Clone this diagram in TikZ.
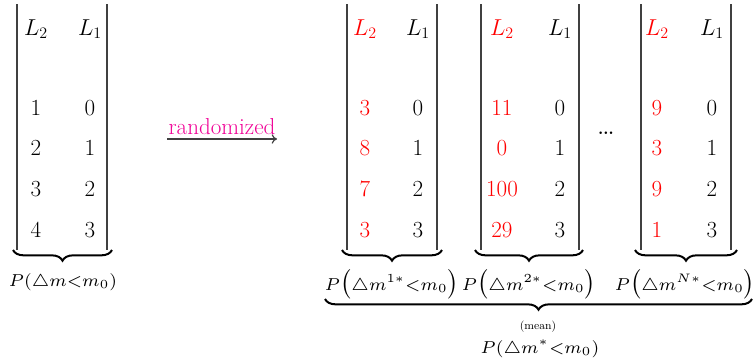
\documentclass[tikz,border=0pt]{standalone}
\usetikzlibrary{decorations.pathreplacing,arrows.meta}
\definecolor{rnd}{RGB}{240,0,150}
\begin{document}
\begin{tikzpicture}[x=0.75pt,y=-0.75pt,
  cell/.style={font=\fontsize{17.28}{20}\selectfont, inner sep=0pt, anchor=base},
  redcell/.style={cell, text=red},
  rule/.style={line width=0.9pt, black!75},
  sbrace/.style={decorate, decoration={brace, mirror, amplitude=8pt}, line width=1.5pt},
  lbl/.style={scale=1.85, inner sep=0pt}]
\useasboundingbox (0,0) rectangle (755,358);

% ---------- Table A ----------
\draw[rule] (17,4) -- (17,250);
\draw[rule] (107,4) -- (107,250);
\node[cell] (a2h) at (36,35) {$L_2$};
\node[cell] (a1h) at (90,35) {$L_1$};
\foreach \y/\u/\v [count=\i] in {115/1/0,155/2/1,196/3/2,237/4/3}{
  \node[cell] (a2r\i) at (36,\y) {$\u$};
  \node[cell] (a1r\i) at (90,\y) {$\v$};
}
\coordinate (abl) at (13,250);
\coordinate (abr) at (112,250);
\draw[sbrace] (abl) -- (abr);
\node[lbl] (alab) at (63,282) {$\scriptstyle P(\triangle m<m_0)$};

% ---------- Arrow ----------
\coordinate (arS) at (167,139);
\coordinate (arE) at (277,139);
\draw[black!75, line width=0.9pt, -{To[length=4pt,width=7pt]}] (arS) -- (arE);
\node[font=\fontsize{17.28}{20}\selectfont, text=rnd, inner sep=0pt, anchor=base] (rand) at (222,134) {randomized};

% ---------- Table B ----------
\draw[rule] (347,4) -- (347,250);
\draw[rule] (437,4) -- (437,250);
\node[redcell] (b2h) at (365,35) {$L_2$};
\node[cell] (b1h) at (418,35) {$L_1$};
\foreach \y/\u/\v [count=\i] in {115/3/0,155/8/1,196/7/2,237/3/3}{
  \node[redcell] (b2r\i) at (365,\y) {$\u$};
  \node[cell] (b1r\i) at (418,\y) {$\v$};
}
\coordinate (bbl) at (342,250);
\coordinate (bbr) at (442,250);
\draw[sbrace] (bbl) -- (bbr);
\node[lbl] (blab) at (392,284) {$\scriptstyle P\bigl(\triangle m^{1*}<m_0\bigr)$};

% ---------- Table C ----------
\draw[rule] (481,4) -- (481,250);
\draw[rule] (579,4) -- (579,250);
\node[redcell] (c2h) at (502,35) {$L_2$};
\node[cell] (c1h) at (560,35) {$L_1$};
\foreach \y/\u/\v [count=\i] in {115/11/0,155/0/1,196/100/2,237/29/3}{
  \node[redcell] (c2r\i) at (502,\y) {$\u$};
  \node[cell] (c1r\i) at (560,\y) {$\v$};
}
\coordinate (cbl) at (475,250);
\coordinate (cbr) at (583,250);
\draw[sbrace] (cbl) -- (cbr);
\node[lbl] (clab) at (529,284) {$\scriptstyle P\bigl(\triangle m^{2*}<m_0\bigr)$};

% ---------- dots ----------
\node[cell, scale=1.35] (dots) at (606,134) {\ldots};

% ---------- Table D ----------
\draw[rule] (641,4) -- (641,250);
\draw[rule] (731,4) -- (731,250);
\node[redcell] (d2h) at (657,35) {$L_2$};
\node[cell] (d1h) at (712,35) {$L_1$};
\foreach \y/\u/\v [count=\i] in {115/9/0,155/3/1,196/9/2,237/1/3}{
  \node[redcell] (d2r\i) at (657,\y) {$\u$};
  \node[cell] (d1r\i) at (712,\y) {$\v$};
}
\coordinate (dbl) at (635,250);
\coordinate (dbr) at (737,250);
\draw[sbrace] (dbl) -- (dbr);
\node[lbl] (dlab) at (685,284) {$\scriptstyle P\bigl(\triangle m^{N*}<m_0\bigr)$};

% ---------- big brace ----------
\coordinate (gbl) at (325,299);
\coordinate (gbr) at (752,299);
\draw[sbrace] (gbl) -- (gbr);
\node[inner sep=0pt, font=\fontsize{8.5}{9}\selectfont] (mean) at (538,327) {(mean)};
\node[lbl] (glab) at (540,349) {$\scriptstyle P(\triangle m^{*}<m_0)$};
\end{tikzpicture}
\end{document}
